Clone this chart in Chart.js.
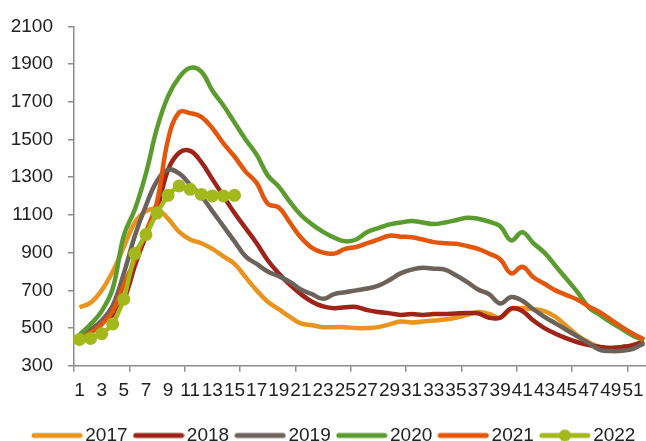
<!DOCTYPE html>
<html>
<head>
<meta charset="utf-8">
<script src="https://cdn.jsdelivr.net/npm/chart.js@4.4.1/dist/chart.umd.min.js"></script>
<style>
  html, body { margin: 0; padding: 0; background: #fff; overflow: hidden; }
  #wrap { width: 646px; height: 441px; overflow: hidden; }
</style>
</head>
<body>
<div id="wrap"><canvas id="chart" width="680" height="455"></canvas></div>
<script>
const weeks = [
  "1", "2", "3", "4", "5", "6", "7", "8", "9", "10", "11", "12", "13",
  "14", "15", "16", "17", "18", "19", "20", "21", "22", "23", "24", "25", "26",
  "27", "28", "29", "30", "31", "32", "33", "34", "35", "36", "37", "38", "39",
  "40", "41", "42", "43", "44", "45", "46", "47", "48", "49", "50", "51", "52",
];
const yTicks = [300, 500, 700, 900, 1100, 1300, 1500, 1700, 1900, 2100];
const years = ["2017", "2018", "2019", "2020", "2021", "2022"];

const s2017 = [
  610, 635, 700, 800, 930, 1060, 1120, 1130, 1080, 1010, 970, 950, 920,
  880, 840, 770, 700, 640, 600, 560, 525, 515, 505, 505, 505, 500,
  500, 505, 520, 535, 530, 535, 540, 545, 555, 570, 585, 575, 555,
  600, 605, 600, 590, 560, 510, 460, 425, 400, 395, 400, 410, 430,
];
const s2018 = [
  450, 490, 530, 570, 650, 830, 990, 1130, 1340, 1430, 1440, 1380, 1290,
  1200, 1110, 1030, 950, 860, 790, 730, 680, 640, 615, 605, 610, 612,
  595, 585, 578, 570, 575, 570, 575, 575, 578, 580, 578, 555, 555,
  605, 590, 540, 500, 470, 445, 425, 410, 400, 395, 400, 410, 430,
];
const s2019 = [
  450, 490, 540, 620, 790, 990, 1150, 1280, 1340, 1320, 1260, 1200, 1120,
  1040, 960, 880, 840, 800, 775, 745, 705, 680, 655, 680, 690, 700,
  710, 725, 755, 790, 810, 820, 815, 810, 780, 745, 705, 680, 630,
  665, 645, 600, 560, 525, 490, 455, 420, 385, 378, 380, 390, 420,
];
const s2020 = [
  465, 520, 590, 710, 990, 1130, 1320, 1560, 1730, 1830, 1880, 1860, 1760,
  1680, 1590, 1500, 1420, 1310, 1250, 1170, 1100, 1050, 1010, 980, 960, 970,
  1010, 1030, 1050, 1060, 1068, 1060, 1052, 1060, 1072, 1085, 1080, 1065, 1040,
  965, 1008, 950, 900, 830, 760, 690, 610, 570, 530, 495, 460, 435,
];
const s2021 = [
  445, 475, 520, 590, 730, 860, 1010, 1170, 1500, 1645, 1640, 1620, 1560,
  1480, 1410, 1330, 1270, 1160, 1140, 1060, 980, 925, 900, 895, 920, 930,
  950, 970, 990, 985, 982, 970, 956, 950, 947, 935, 920, 895, 865,
  790, 825, 770, 735, 700, 675, 650, 615, 585, 545, 505, 470, 440,
];
const s2022 = [440, 445, 470, 522, 653, 895, 996, 1110, 1204, 1254, 1236, 1209, 1201, 1201, 1204];

const seriesList = [s2017, s2018, s2019, s2020, s2021, s2022];
const lineColors = ["#E8941F", "#9E2318", "#6B6259", "#5B9C2E", "#E3560B", "#A3B81A"];

const textFont = { family: "'Liberation Sans', Arial, sans-serif", size: 19 };
const axisColor = "#8c8c8c";

// legend swatch: thick rounded line, plus a dot for the marker series
function makeLegendIcon(color, withDot) {
  const c = document.createElement("canvas");
  c.width = 52;
  c.height = 14;
  const g = c.getContext("2d");
  g.strokeStyle = color;
  g.lineWidth = 5;
  g.lineCap = "round";
  g.beginPath();
  g.moveTo(3, 7);
  g.lineTo(49, 7);
  g.stroke();
  if (withDot) {
    g.fillStyle = color;
    g.beginPath();
    g.arc(26, 7, 6, 0, Math.PI * 2);
    g.fill();
  }
  return c;
}

const legendIcons = years.map((y, i) => makeLegendIcon(lineColors[i], i === years.length - 1));

// the legend in the original is centred on the uncropped chart, nudge it right
const legendShift = {
  id: "legendShift",
  afterLayout(chart) {
    chart.legend.left += 8;
    chart.legend.right += 8;
  },
};

function buildDatasets() {
  return years.map((year, i) => {
    const isLast = i === years.length - 1;
    return {
      label: year,
      data: seriesList[i],
      borderColor: lineColors[i],
      backgroundColor: lineColors[i],
      borderWidth: 4.5,
      tension: isLast ? 0.15 : 0.4,
      pointRadius: isLast ? 6.5 : 0,
      pointBorderWidth: 0,
      pointBackgroundColor: lineColors[i],
      fill: false,
      order: years.length - 1 - i,
    };
  });
}

function renderChart() {
  const ctx = document.getElementById("chart");

  new Chart(ctx, {
    type: "line",
    data: { labels: weeks, datasets: buildDatasets() },
    plugins: [legendShift],
    options: {
      responsive: false,
      animation: false,
      devicePixelRatio: 1,
      layout: { padding: { left: 8, right: 30.4, top: 22, bottom: 0 } },
      plugins: {
        tooltip: { enabled: false },
        legend: {
          position: "bottom",
          labels: {
            usePointStyle: true,
            pointStyleWidth: 37.6,
            padding: 12.2,
            color: "#222",
            font: textFont,
            generateLabels: (chart) =>
              chart.data.datasets.map((ds, i) => ({
                text: ds.label,
                pointStyle: legendIcons[i],
                fillStyle: ds.borderColor,
                strokeStyle: ds.borderColor,
                lineWidth: 0,
                fontColor: "#222",
                hidden: false,
                datasetIndex: i,
              })),
          },
        },
      },
      scales: {
        x: {
          offset: true,
          grid: {
            offset: true,
            drawOnChartArea: false,
            tickLength: 6,
            lineWidth: 1.5,
            color: (c) => (c.index % 5 === 0 ? axisColor : "rgba(0,0,0,0)"),
          },
          border: { color: axisColor, width: 1.5 },
          ticks: {
            autoSkip: false,
            maxRotation: 0,
            minRotation: 0,
            padding: 8,
            color: "#222",
            font: textFont,
            callback: (v, i) => (i % 2 === 0 ? weeks[i] : ""),
          },
          afterFit: (scale) => {
            scale.height = 48;
          },
        },
        y: {
          min: yTicks[0],
          max: yTicks[yTicks.length - 1],
          afterBuildTicks: (scale) => {
            scale.ticks = yTicks.map((v) => ({ value: v }));
          },
          grid: {
            drawOnChartArea: false,
            tickLength: 6,
            lineWidth: 1.5,
            color: axisColor,
          },
          border: { color: axisColor, width: 1.5 },
          ticks: {
            padding: 15,
            color: "#222",
            font: textFont,
            callback: (v) => String(v),
          },
          afterFit: (scale) => {
            scale.width = 66;
          },
        },
      },
    },
  });
}

renderChart();
</script>
</body>
</html>
